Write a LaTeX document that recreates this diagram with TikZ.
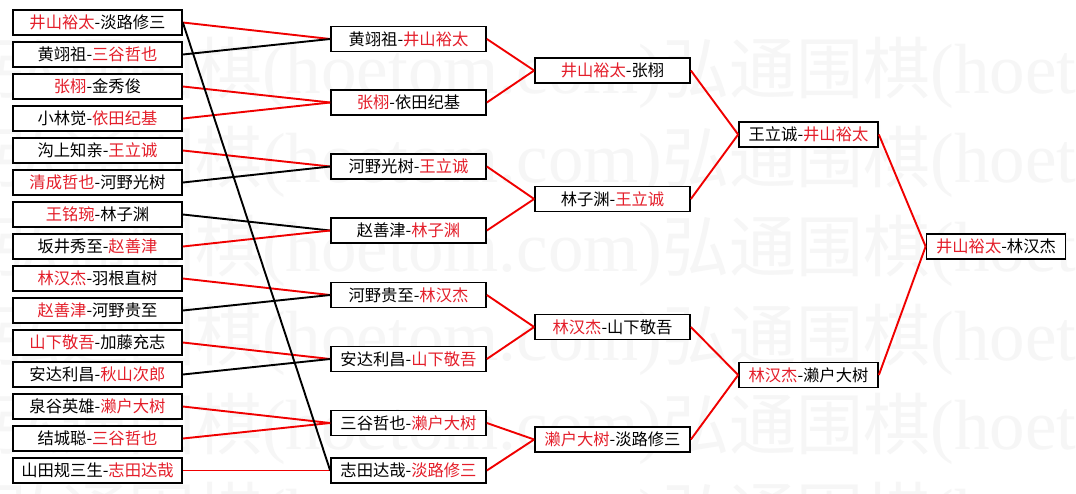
\documentclass[tikz,border=0pt]{standalone}
\usepackage{fontspec}
\newfontfamily\cjk{Noto Sans CJK SC}
\newfontfamily\wmlat{Liberation Serif}
\definecolor{wred}{RGB}{228,30,42}
\definecolor{lred}{RGB}{240,0,0}
\definecolor{wmgray}{RGB}{246,246,246}
\newcommand\W[1]{\textcolor{wred}{#1}}
\newcommand\wmrow{{\cjk\fontsize{67}{80}\selectfont 弘通围棋}{\wmlat\fontsize{71}{80}\selectfont (hoetom.com)}{\cjk\fontsize{67}{80}\selectfont 弘通围棋}{\wmlat\fontsize{71}{80}\selectfont (hoetom.com)}}
\begin{document}
\begin{tikzpicture}[x=1pt,y=-1pt,
  box/.style={draw=black, line width=1.7pt, fill=white, inner sep=0pt,
    minimum height=25pt, font=\cjk\fontsize{16.3}{18}\selectfont, text=black},
  c1box/.style={box, minimum width=169pt},
  c2box/.style={box, minimum width=155pt},
  c4box/.style={box, minimum width=139pt},
  rl/.style={draw=lred, line width=1.9pt},
  bl/.style={draw=black, line width=1.9pt},
  wm/.style={anchor=base west, inner sep=0pt, text=wmgray}]
\useasboundingbox[fill=white] (0,0) rectangle (1076,493);
% watermark
\begin{scope}
\clip (0,0) rectangle (1076,493);
\foreach \i/\yy in {1/93.5,2/182.5,3/271.5,4/360.5,5/449.5,6/538.5}
  \node[wm] (wm\i) at (-6,\yy) {\wmrow};
\end{scope}
% column 1
\node[c1box] (a1)  at (97.5,22.5)  {\W{井山裕太}-淡路修三};
\node[c1box] (a2)  at (97.5,54.5)  {黄翊祖-\W{三谷哲也}};
\node[c1box] (a3)  at (97.5,86.5)  {\W{张栩}-金秀俊};
\node[c1box] (a4)  at (97.5,118.5) {小林觉-\W{依田纪基}};
\node[c1box] (a5)  at (97.5,150.5) {沟上知亲-\W{王立诚}};
\node[c1box] (a6)  at (97.5,182.5) {\W{清成哲也}-河野光树};
\node[c1box] (a7)  at (97.5,214.5) {\W{王铭琬}-林子渊};
\node[c1box] (a8)  at (97.5,246.5) {坂井秀至-\W{赵善津}};
\node[c1box] (a9)  at (97.5,278.5) {\W{林汉杰}-羽根直树};
\node[c1box] (a10) at (97.5,310.5) {\W{赵善津}-河野贵至};
\node[c1box] (a11) at (97.5,342.5) {\W{山下敬吾}-加藤充志};
\node[c1box] (a12) at (97.5,374.5) {安达利昌-\W{秋山次郎}};
\node[c1box] (a13) at (97.5,406.5) {泉谷英雄-\W{濑户大树}};
\node[c1box] (a14) at (97.5,438.5) {结城聪-\W{三谷哲也}};
\node[c1box] (a15) at (97.5,470.5) {山田规三生-\W{志田达哉}};
% column 2
\node[c2box] (b1) at (408.5,39)    {黄翊祖-\W{井山裕太}};
\node[c2box] (b2) at (408.5,102.5) {\W{张栩}-依田纪基};
\node[c2box] (b3) at (408.5,166.5) {河野光树-\W{王立诚}};
\node[c2box] (b4) at (408.5,230.5) {赵善津-\W{林子渊}};
\node[c2box] (b5) at (408.5,295)   {河野贵至-\W{林汉杰}};
\node[c2box] (b6) at (408.5,359)   {安达利昌-\W{山下敬吾}};
\node[c2box] (b7) at (408.5,423)   {三谷哲也-\W{濑户大树}};
\node[c2box] (b8) at (408.5,470.5) {志田达哉-\W{淡路修三}};
% column 3
\node[c2box] (c1) at (612.5,70.5)  {\W{井山裕太}-张栩};
\node[c2box] (c2) at (612.5,199)   {林子渊-\W{王立诚}};
\node[c2box] (c3) at (612.5,327)   {\W{林汉杰}-山下敬吾};
\node[c2box] (c4) at (612.5,439.5) {\W{濑户大树}-淡路修三};
% column 4
\node[c4box] (d1) at (808.5,134.5) {王立诚-\W{井山裕太}};
\node[c4box] (d2) at (808.5,375)   {\W{林汉杰}-濑户大树};
% column 5
\node[c4box] (e1) at (996,246.5)   {\W{井山裕太}-林汉杰};
% connectors col1 -> col2
\draw[rl] (a1.east) -- (b1.west);
\draw[bl] (a2.east) -- (b1.west);
\draw[rl] (a3.east) -- (b2.west);
\draw[rl] (a4.east) -- (b2.west);
\draw[rl] (a5.east) -- (b3.west);
\draw[bl] (a6.east) -- (b3.west);
\draw[bl] (a7.east) -- (b4.west);
\draw[rl] (a8.east) -- (b4.west);
\draw[rl] (a9.east) -- (b5.west);
\draw[bl] (a10.east) -- (b5.west);
\draw[rl] (a11.east) -- (b6.west);
\draw[bl] (a12.east) -- (b6.west);
\draw[rl] (a13.east) -- (b7.west);
\draw[rl] (a14.east) -- (b7.west);
\draw[rl] (a15.east) -- (b8.west);
\draw[bl] (a1.east) -- (b8.west);
% col2 -> col3
\draw[rl] (b1.east) -- (c1.west);
\draw[rl] (b2.east) -- (c1.west);
\draw[rl] (b3.east) -- (c2.west);
\draw[rl] (b4.east) -- (c2.west);
\draw[rl] (b5.east) -- (c3.west);
\draw[rl] (b6.east) -- (c3.west);
\draw[rl] (b7.east) -- (c4.west);
\draw[rl] (b8.east) -- (c4.west);
% col3 -> col4
\draw[rl] (c1.east) -- (d1.west);
\draw[rl] (c2.east) -- (d1.west);
\draw[rl] (c3.east) -- (d2.west);
\draw[rl] (c4.east) -- (d2.west);
% col4 -> col5
\draw[rl] (d1.east) -- (e1.west);
\draw[rl] (d2.east) -- (e1.west);
\end{tikzpicture}
\end{document}
